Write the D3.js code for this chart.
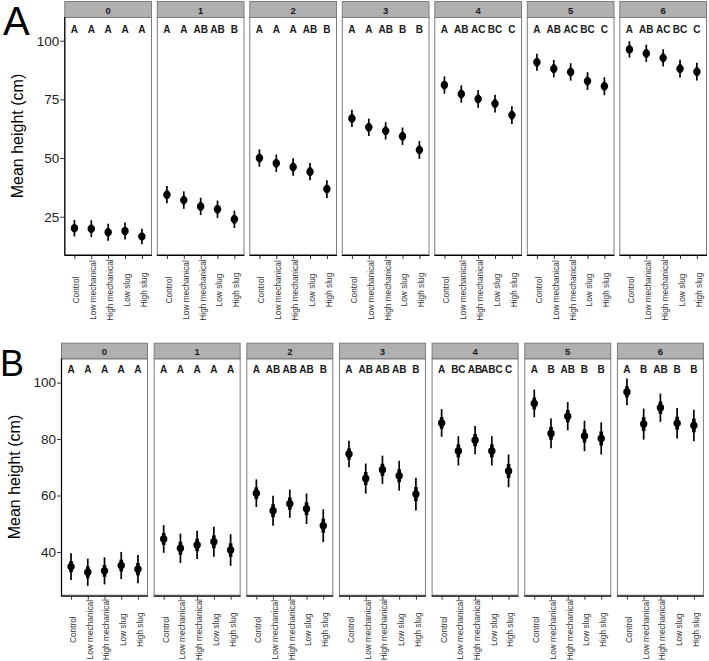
<!DOCTYPE html>
<html>
<head>
<meta charset="utf-8">
<script src="https://cdn.jsdelivr.net/npm/d3@7"></script>
<style>
  html, body { margin: 0; padding: 0; background: #fff; }
  svg { display: block; font-family: "Liberation Sans", Arial, sans-serif; }
</style>
</head>
<body>
<svg id="chart" width="709" height="661"></svg>
<script>
// ---------------- DATA ----------------
const treatments = ["Control", "Low mechanical", "High mechanical", "Low slug", "High slug"];
const facets = ["0", "1", "2", "3", "4", "5", "6"];

// Panel A
const ticksA = [25, 50, 75, 100];
const meanA = [
  [20.1, 19.9, 18.4, 18.9, 16.6],
  [34.4, 32.1, 29.4, 28.2, 23.9],
  [50.0, 47.8, 46.2, 44.2, 36.8],
  [66.9, 63.1, 61.6, 59.3, 53.5],
  [81.1, 77.3, 75.2, 73.2, 68.3],
  [90.8, 88.1, 86.7, 82.8, 80.6],
  [96.3, 94.6, 92.7, 88.1, 86.8]
];
const ciA = [
  [3.5, 3.6, 3.6, 3.6, 3.3],
  [3.7, 3.7, 3.7, 3.7, 3.7],
  [3.7, 3.7, 3.7, 3.7, 3.8],
  [3.7, 3.7, 3.7, 3.7, 3.8],
  [3.7, 3.7, 3.8, 3.8, 3.8],
  [3.6, 3.7, 3.7, 3.8, 3.8],
  [3.5, 3.7, 3.7, 3.8, 3.8]
];
const seA = [
  [1.7, 1.7, 1.7, 1.7, 1.6],
  [1.8, 1.8, 1.8, 1.8, 1.8],
  [1.8, 1.8, 1.8, 1.8, 1.8],
  [1.8, 1.8, 1.8, 1.8, 1.8],
  [1.8, 1.8, 1.8, 1.8, 1.8],
  [1.8, 1.8, 1.8, 1.8, 1.8],
  [1.7, 1.8, 1.8, 1.8, 1.8]
];
const lettersA = [
  ["A", "A", "A", "A", "A"],
  ["A", "A", "AB", "AB", "B"],
  ["A", "A", "A", "AB", "B"],
  ["A", "A", "AB", "B", "B"],
  ["A", "AB", "AC", "BC", "C"],
  ["A", "AB", "AC", "BC", "C"],
  ["A", "AB", "AC", "BC", "C"]
];

// Panel B
const ticksB = [40, 60, 80, 100];
const meanB = [
  [34.8, 32.8, 33.3, 35.2, 33.9],
  [44.6, 41.3, 42.5, 43.6, 40.7],
  [60.8, 54.6, 57.1, 55.3, 49.3],
  [74.7, 66.0, 69.1, 67.0, 60.5],
  [85.7, 75.8, 79.6, 75.8, 68.7],
  [92.6, 82.0, 88.1, 81.1, 80.2],
  [96.7, 85.3, 91.1, 85.6, 84.8]
];
const ciB = [
  [4.7, 4.8, 4.8, 4.8, 5.0],
  [4.9, 5.2, 5.0, 5.3, 5.6],
  [4.9, 5.3, 5.0, 5.4, 5.8],
  [4.7, 5.3, 5.0, 5.3, 5.8],
  [4.9, 5.2, 5.0, 5.2, 5.8],
  [4.9, 5.3, 5.0, 5.4, 5.7],
  [4.7, 5.5, 5.0, 5.4, 5.6]
];
const seB = [
  [2.0, 2.1, 2.1, 2.1, 2.2],
  [2.1, 2.3, 2.2, 2.3, 2.4],
  [2.1, 2.3, 2.2, 2.3, 2.5],
  [2.0, 2.3, 2.2, 2.3, 2.5],
  [2.1, 2.3, 2.2, 2.3, 2.5],
  [2.1, 2.3, 2.2, 2.3, 2.5],
  [2.0, 2.4, 2.2, 2.3, 2.4]
];
const lettersB = [
  ["A", "A", "A", "A", "A"],
  ["A", "A", "A", "A", "A"],
  ["A", "AB", "AB", "AB", "B"],
  ["A", "AB", "AB", "AB", "B"],
  ["A", "BC", "AB", "ABC", "C"],
  ["A", "B", "AB", "B", "B"],
  ["A", "B", "AB", "B", "B"]
];

// ---------------- DRAW ----------------
const svg = d3.select("#chart");

function drawBlock(cfg) {
  const g = svg.append("g");
  const y = d3.scaleLinear().domain(cfg.yDomain).range([cfg.bottom, cfg.top]);

  facets.forEach((f, i) => {
    const x0 = cfg.left + i * cfg.step;
    const x = d3.scalePoint().domain(treatments).range([x0, x0 + cfg.w]).padding(0.6);
    const pg = g.append("g");

    // strip
    pg.append("rect")
      .attr("x", x0 + 0.5).attr("y", cfg.stripTop + 0.5)
      .attr("width", cfg.w - 1).attr("height", cfg.top - cfg.stripTop)
      .attr("fill", "#b0b0b0").attr("stroke", "#7d7d7d").attr("stroke-width", 1);
    pg.append("text")
      .attr("x", x0 + cfg.w / 2).attr("y", (cfg.stripTop + cfg.top) / 2 + 1)
      .attr("text-anchor", "middle").attr("dominant-baseline", "central")
      .attr("font-size", 9.5).attr("font-weight", "bold").attr("fill", "#1a1a1a")
      .text(f);

    // panel border
    pg.append("rect")
      .attr("x", x0 + 0.5).attr("y", cfg.top + 0.5)
      .attr("width", cfg.w - 1).attr("height", cfg.bottom - cfg.top - 1)
      .attr("fill", "none").attr("stroke", "#7d7d7d").attr("stroke-width", 1);

    // bottom axis
    const ax = pg.append("g")
      .attr("transform", `translate(0,${cfg.bottom})`)
      .call(d3.axisBottom(x).tickSize(4).tickSizeOuter(0));
    ax.select(".domain").attr("stroke", "#000").attr("stroke-width", 1.2)
      .attr("d", `M${x0},0.5H${x0 + cfg.w}`);
    ax.selectAll(".tick line").attr("stroke", "#333");
    ax.selectAll(".tick text")
      .attr("transform", "rotate(-90)")
      .attr("x", -cfg.labelOffset).attr("y", 1.5).attr("dy", "0.35em")
      .attr("text-anchor", "middle")
      .attr("font-size", 8.3).attr("fill", "#333")
      .attr("font-family", "Liberation Sans, Arial, sans-serif");

    // left axis on first panel
    if (i === 0) {
      const ay = pg.append("g")
        .attr("transform", `translate(${x0},0)`)
        .call(d3.axisLeft(y).tickValues(cfg.ticks).tickSize(4).tickSizeOuter(0));
      ay.select(".domain").attr("stroke", "#000").attr("stroke-width", 1.2)
        .attr("d", `M0.5,${cfg.top}V${cfg.bottom}`);
      ay.selectAll(".tick line").attr("stroke", "#333");
      ay.selectAll(".tick text")
        .attr("font-size", 13.5).attr("fill", "#222").attr("x", -5)
        .attr("font-family", "Liberation Sans, Arial, sans-serif");
    }

    // significance letters
    pg.selectAll("text.letter")
      .data(cfg.letters[i]).enter().append("text")
      .attr("class", "letter")
      .attr("x", (d, j) => x(treatments[j]))
      .attr("y", cfg.letterY)
      .attr("text-anchor", "middle")
      .attr("font-size", 10).attr("font-weight", "bold").attr("fill", "#1a1a1a")
      .text(d => d);

    const rows = treatments.map((t, j) => ({
      t, m: cfg.mean[i][j], ci: cfg.ci[i][j], se: cfg.se[i][j]
    }));

    // thin CI line
    pg.selectAll("line.ci").data(rows).enter().append("line")
      .attr("x1", d => x(d.t)).attr("x2", d => x(d.t))
      .attr("y1", d => y(d.m - d.ci)).attr("y2", d => y(d.m + d.ci))
      .attr("stroke", "#000").attr("stroke-width", 1.7);
    // thick SE line
    pg.selectAll("line.se").data(rows).enter().append("line")
      .attr("x1", d => x(d.t)).attr("x2", d => x(d.t))
      .attr("y1", d => y(d.m - d.se)).attr("y2", d => y(d.m + d.se))
      .attr("stroke", "#000").attr("stroke-width", 3.6);
    // point
    pg.selectAll("circle.pt").data(rows).enter().append("circle")
      .attr("cx", d => x(d.t)).attr("cy", d => y(d.m))
      .attr("r", 3.7).attr("fill", "#000");
  });

  // y title
  g.append("text")
    .attr("transform", `translate(${cfg.titleX},${(cfg.top + cfg.bottom) / 2}) rotate(-90)`)
    .attr("text-anchor", "middle").attr("dominant-baseline", "central")
    .attr("font-size", 16).attr("fill", "#000")
    .text("Mean height (cm)");

  // panel tag
  g.append("text")
    .attr("x", cfg.tagX).attr("y", cfg.tagY)
    .attr("font-size", cfg.tagSize).attr("fill", "#000")
    .text(cfg.tag);
}

drawBlock({
  tag: "A", tagX: 3, tagY: 35, tagSize: 40,
  left: 64.3, w: 87.7, step: 92.5,
  stripTop: 1, top: 17, bottom: 255,
  yDomain: [8.7, 110.1], ticks: ticksA,
  mean: meanA, ci: ciA, se: seA, letters: lettersA,
  letterY: 33, labelOffset: 35, titleX: 17
});

drawBlock({
  tag: "B", tagX: 0, tagY: 376, tagSize: 36,
  left: 61, w: 87, step: 92.65,
  stripTop: 342.7, top: 358.3, bottom: 595.7,
  yDomain: [24.5, 108.6], ticks: ticksB,
  mean: meanB, ci: ciB, se: seB, letters: lettersB,
  letterY: 373, labelOffset: 34, titleX: 14
});
</script>
</body>
</html>
